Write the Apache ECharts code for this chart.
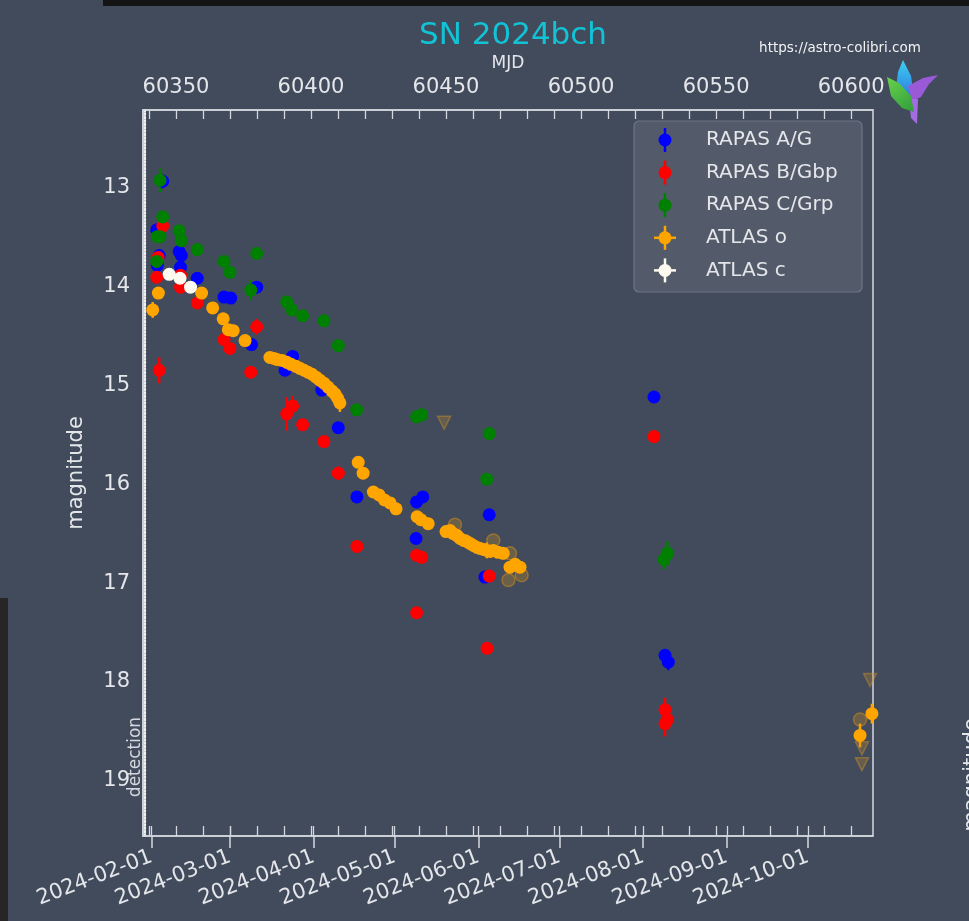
<!DOCTYPE html>
<html>
<head>
<meta charset="utf-8">
<script src="https://cdn.jsdelivr.net/npm/echarts@6/dist/echarts.min.js"></script>
<style>
html,body{margin:0;padding:0;background:#414b5c;}
#chart{width:969px;height:921px;}
</style>
</head>
<body>
<div id="chart"></div>
<script>
// ---- data: [MJD, magnitude, error] ----
const rapasA = [
  [60345.1,12.94,0.07],[60342.9,13.43,0],[60343.8,13.69,0],[60343.1,13.79,0],
  [60351.2,13.65,0],[60352.0,13.69,0],[60351.7,13.81,0],[60357.9,13.92,0],
  [60367.8,14.11,0],[60370.3,14.12,0],[60379.9,14.01,0],[60378.0,14.59,0],
  [60390.4,14.85,0],[60393.2,14.71,0],[60404.0,15.05,0],[60410.1,15.43,0],
  [60417.0,16.13,0],[60439.1,16.18,0],[60441.4,16.13,0],[60438.9,16.55,0],
  [60466.0,16.31,0],[60464.4,16.94,0],[60527.0,15.12,0],[60531.1,17.73,0.06],
  [60532.3,17.80,0.08]
];
const rapasB = [
  [60345.1,13.39,0],[60343.4,13.71,0],[60342.9,13.91,0],[60343.8,14.85,0.13],
  [60351.7,13.89,0],[60351.7,14.01,0],[60357.9,14.17,0],[60367.8,14.54,0],
  [60370.0,14.63,0],[60377.7,14.87,0],[60379.9,14.41,0.08],[60391.0,15.29,0.17],
  [60393.2,15.21,0.10],[60396.9,15.40,0],[60404.8,15.57,0],[60410.1,15.89,0.07],
  [60417.0,16.63,0],[60439.1,16.72,0],[60441.0,16.74,0],[60439.1,17.30,0.06],
  [60466.0,16.93,0],[60465.2,17.66,0],[60527.0,15.52,0.06],[60531.1,18.28,0.12],
  [60532.0,18.38,0.1],[60531.1,18.42,0.13]
];
const rapasC = [
  [60344.1,12.93,0.12],[60345.1,13.30,0],[60343.1,13.50,0],[60344.1,13.50,0],
  [60342.9,13.75,0],[60351.2,13.44,0],[60352.0,13.54,0],[60357.9,13.63,0],
  [60367.8,13.75,0],[60370.0,13.86,0],[60377.7,14.04,0.10],[60379.9,13.67,0],
  [60391.0,14.16,0],[60392.9,14.24,0],[60396.9,14.30,0],[60404.8,14.35,0],
  [60410.1,14.60,0],[60416.9,15.25,0],[60439.1,15.32,0],[60441.0,15.30,0],
  [60466.0,15.49,0],[60465.1,15.95,0],[60532.0,16.70,0.12],[60530.7,16.76,0.1]
];
const atlasO = [
  [60341.4,14.24,0.08],[60343.5,14.07,0],[60359.5,14.07,0],[60363.6,14.22,0],
  [60367.5,14.33,0],[60369.4,14.44,0],[60371.2,14.45,0.06],[60375.6,14.55,0],
  [60384.8,14.72,0],[60386.3,14.73,0],[60387.4,14.74,0],[60389.3,14.75,0.05],
  [60391.1,14.77,0],[60392.6,14.79,0],[60394.4,14.81,0.05],[60395.9,14.83,0],
  [60397.4,14.85,0],[60398.9,14.87,0.05],[60400.4,14.89,0],[60401.9,14.92,0],
  [60403.3,14.95,0.06],[60404.8,14.98,0],[60406.3,15.02,0.06],[60407.8,15.06,0],
  [60408.9,15.09,0.07],[60409.8,15.13,0.07],[60410.7,15.18,0.09],
  [60417.5,15.78,0],[60419.3,15.89,0.06],[60423.1,16.08,0],[60425.2,16.11,0.05],
  [60427.2,16.16,0],[60429.3,16.19,0.05],[60431.5,16.25,0.05],
  [60439.3,16.33,0.05],[60440.7,16.36,0],[60443.4,16.40,0.06],
  [60450.0,16.48,0],[60451.5,16.47,0],[60452.7,16.50,0.05],[60454.1,16.52,0],
  [60455.2,16.55,0.06],[60456.5,16.57,0],[60457.7,16.58,0.07],[60458.9,16.60,0],
  [60460.1,16.62,0.06],[60461.5,16.64,0],[60462.6,16.65,0.06],[60463.9,16.66,0],
  [60465.1,16.67,0.08],[60466.3,16.68,0],[60467.5,16.67,0.05],[60469.3,16.69,0],
  [60471.2,16.70,0.06],[60473.7,16.84,0.06],[60475.6,16.81,0],[60477.4,16.84,0.05],
  [60603.3,18.54,0.12],[60607.7,18.32,0.1]
];
const atlasOFaint = [
  [60453.3,16.41],[60467.5,16.57],[60473.7,16.70],[60473.1,16.97],
  [60478.0,16.92],[60603.3,18.38]
];
const atlasOLimits = [
  [60449.3,15.38],[60607.0,17.98],[60604.0,18.67],[60604.0,18.83]
];
const atlasC = [
  [60347.5,13.88,0],[60351.5,13.92,0],[60355.4,14.01,0]
];

const seriesNames = ['RAPAS A/G','RAPAS B/Gbp','RAPAS C/Grp','ATLAS o','ATLAS c'];
const seriesColors = ['#0000ff','#ff0000','#008000','#ffa500','#fffaf0'];

// axis ticks
const mjdLabels = [60350,60400,60450,60500,60550,60600];
const mjdMinor = [60340,60350,60360,60370,60380,60390,60400,60410,60420,60430,60440,60450,
  60460,60470,60480,60490,60500,60510,60520,60530,60540,60550,60560,60570,60580,60590,60600];
const dateLabels = ['2024-02-01','2024-03-01','2024-04-01','2024-05-01','2024-06-01',
  '2024-07-01','2024-08-01','2024-09-01','2024-10-01'];
const magTicks = [13,14,15,16,17,18,19];
const xRange = [60337.8, 60608.1];
const yRange = [12.22, 19.556];

function dateToMjd(s){
  const p = s.split('-').map(Number);
  return Date.UTC(p[0], p[1]-1, p[2]) / 86400000 + 40587;
}
const dateMjd = dateLabels.map(dateToMjd);

const FONT = 'DejaVu Sans';
const TXT = '#e4e6ea';
const FRAME = '#d4d8de';

function errSeries(data, color){
  return {
    type: 'custom', xAxisIndex: 0, yAxisIndex: 0, clip: true, silent: true,
    data: data.filter(d => d[2] > 0),
    encode: {x: 0, y: 1},
    renderItem: function(params, api){
      const x = api.value(0), y = api.value(1), e = api.value(2);
      const p1 = api.coord([x, y - e]), p2 = api.coord([x, y + e]);
      return {type: 'line', shape: {x1: p1[0], y1: p1[1], x2: p2[0], y2: p2[1]},
        style: {stroke: color, lineWidth: 2.5}};
    }
  };
}
function dotSeries(name, data, color, extra){
  return Object.assign({
    name: name, type: 'scatter', xAxisIndex: 0, yAxisIndex: 0,
    data: data.map(d => [d[0], d[1]]), symbol: 'circle', symbolSize: 13,
    itemStyle: {color: color, opacity: 1}, silent: true
  }, extra || {});
}

const chart = echarts.init(document.getElementById('chart'), null, {renderer: 'canvas'});

// legend graphic (drawn above the legend frame)
const legendElems = [];
const legTop = 140, legStep = 32.6;
seriesNames.forEach((n, i) => {
  const cy = legTop + i * legStep;
  const c = seriesColors[i];
  legendElems.push({type: 'line', z: 100, silent: true, shape: {x1: 665, y1: cy - 12, x2: 665, y2: cy + 12}, style: {stroke: c, lineWidth: 2.5}});
  if (i >= 3) legendElems.push({type: 'line', z: 100, silent: true, shape: {x1: 654, y1: cy, x2: 676, y2: cy}, style: {stroke: c, lineWidth: 2.5}});
  legendElems.push({type: 'circle', z: 100, silent: true, shape: {cx: 665, cy: cy, r: 6.5}, style: {fill: c}});
  legendElems.push({type: 'text', z: 100, silent: true, style: {x: 706, y: cy, text: n, fill: TXT, font: '20px "DejaVu Sans"', textVerticalAlign: 'middle'}});
});

const option = {
  backgroundColor: '#414b5c',
  animation: false,
  textStyle: {fontFamily: FONT},
  title: {
    text: 'SN 2024bch', left: 508, top: 15, textAlign: 'center',
    textStyle: {color: '#12c3d6', fontSize: 31, fontWeight: 'normal', fontFamily: FONT}
  },
  grid: {left: 143, top: 110, width: 730, height: 726, show: true,
    borderColor: FRAME, borderWidth: 1.5, backgroundColor: 'transparent'},
  xAxis: [
    {
      type: 'value', position: 'top', min: xRange[0], max: xRange[1],
      name: 'MJD', nameLocation: 'middle', nameGap: 38,
      nameTextStyle: {color: TXT, fontSize: 17, fontFamily: FONT},
      axisLine: {show: true, lineStyle: {color: FRAME, width: 1.5}},
      axisTick: {show: true, inside: true, length: 9, customValues: mjdMinor, lineStyle: {color: FRAME, width: 1.3}},
      axisLabel: {show: true, customValues: mjdLabels, color: TXT, fontSize: 21, margin: 12, fontFamily: FONT,
        formatter: v => String(Math.round(v))},
      splitLine: {show: false}
    },
    {
      type: 'value', position: 'bottom', min: xRange[0], max: xRange[1],
      axisLine: {show: true, lineStyle: {color: FRAME, width: 1.5}},
      axisTick: {show: true, inside: false, length: 12, customValues: dateMjd, lineStyle: {color: FRAME, width: 1.5}},
      axisLabel: {show: true, customValues: dateMjd, color: TXT, fontSize: 21, margin: 20, rotate: 21, fontFamily: FONT,
        formatter: v => { const i = dateMjd.findIndex(m => Math.abs(m - v) < 0.01); return i >= 0 ? dateLabels[i] : ''; }},
      splitLine: {show: false}
    },
    {
      type: 'value', position: 'bottom', min: xRange[0], max: xRange[1],
      axisLine: {show: false},
      axisTick: {show: true, inside: true, length: 10, customValues: mjdMinor.concat(dateMjd), lineStyle: {color: FRAME, width: 1.3}},
      axisLabel: {show: false},
      splitLine: {show: false}
    }
  ],
  yAxis: [
    {
      type: 'value', position: 'left', inverse: true, min: yRange[0], max: yRange[1],
      name: 'magnitude', nameLocation: 'middle', nameGap: 56, nameRotate: 90,
      nameTextStyle: {color: TXT, fontSize: 21, fontFamily: FONT},
      axisLine: {show: true, lineStyle: {color: FRAME, width: 1.5}},
      axisTick: {show: false},
      axisLabel: {show: true, customValues: magTicks, color: TXT, fontSize: 21, margin: 13, fontFamily: FONT},
      splitLine: {show: false}
    },
    {
      type: 'value', position: 'left', inverse: true, min: yRange[0], max: yRange[1], offset: -2,
      axisLine: {show: true, lineStyle: {color: '#f0f0f0', width: 2.2, type: [1.6, 1.8]}},
      axisTick: {show: false}, axisLabel: {show: false}, splitLine: {show: false}
    }
  ],
  series: [
    errSeries(rapasA, seriesColors[0]),
    dotSeries(seriesNames[0], rapasA, seriesColors[0]),
    errSeries(rapasB, seriesColors[1]),
    dotSeries(seriesNames[1], rapasB, seriesColors[1]),
    errSeries(rapasC, seriesColors[2]),
    dotSeries(seriesNames[2], rapasC, seriesColors[2]),
    dotSeries('ATLAS o limits', atlasOLimits, 'rgba(200,140,40,0.35)', {
      symbol: 'triangle', symbolRotate: 180, symbolSize: 13,
      itemStyle: {color: 'rgba(200,140,40,0.35)', borderColor: 'rgba(210,145,40,0.55)', borderWidth: 1.5}
    }),
    dotSeries('ATLAS o faint', atlasOFaint, 'rgba(255,165,0,0.3)', {
      itemStyle: {color: 'rgba(255,165,0,0.28)', borderColor: 'rgba(230,150,20,0.55)', borderWidth: 1.5}
    }),
    errSeries(atlasO, seriesColors[3]),
    dotSeries(seriesNames[3], atlasO, seriesColors[3]),
    errSeries(atlasC, seriesColors[4]),
    dotSeries(seriesNames[4], atlasC, seriesColors[4])
  ],
  graphic: [
    {type: 'rect', shape: {x: 103, y: 0, width: 866, height: 6}, style: {fill: '#141414'}, silent: true},
    {type: 'rect', shape: {x: 0, y: 598, width: 8, height: 323}, style: {fill: '#262626'}, silent: true},
    {type: 'text', style: {x: 840, y: 48, text: 'https://astro-colibri.com', fill: '#f2f2f2',
      font: '13.5px "DejaVu Sans"', textAlign: 'center', textVerticalAlign: 'middle'}},
    // colibri logo
    {type: 'polygon', shape: {points: [[903,60],[911,76],[914,97],[903,102],[896,88],[898,72]]},
      style: {fill: new echarts.graphic.LinearGradient(0,0,0,1,[{offset:0,color:'#3fd0f0'},{offset:1,color:'#2a6ee0'}])}},
    {type: 'polygon', shape: {points: [[908,86],[923,78],[938,75],[929,84],[921,97],[912,101]]},
      style: {fill: '#9a5ad8'}},
    {type: 'polygon', shape: {points: [[909,99],[918,99],[917,124],[911,118]]}, style: {fill: '#a46ce2'}},
    {type: 'polygon', shape: {points: [[887,77],[899,83],[911,96],[914,112],[902,108],[891,96]]},
      style: {fill: new echarts.graphic.LinearGradient(0,0,1,1,[{offset:0,color:'#6ad24e'},{offset:1,color:'#2f9c3a'}])}},
    // detection label
    {type: 'text', rotation: Math.PI / 2, x: 136, y: 757,
      style: {text: 'detection', fill: '#d4d8de', font: '17px "DejaVu Sans"', textAlign: 'center', textVerticalAlign: 'middle'}},
    // cut-off neighbour label on right edge
    {type: 'text', rotation: Math.PI / 2, x: 973, y: 775,
      style: {text: 'magnitude', fill: '#e4e6ea', font: '21px "DejaVu Sans"', textAlign: 'center', textVerticalAlign: 'middle'}},
    // legend frame
    {type: 'rect', z: 90, silent: true, shape: {x: 634, y: 121, width: 228, height: 171, r: 5},
      style: {fill: 'rgba(88,95,110,0.8)', stroke: '#6f7686', lineWidth: 1.2}}
  ].concat(legendElems)
};
chart.setOption(option);
</script>
</body>
</html>
